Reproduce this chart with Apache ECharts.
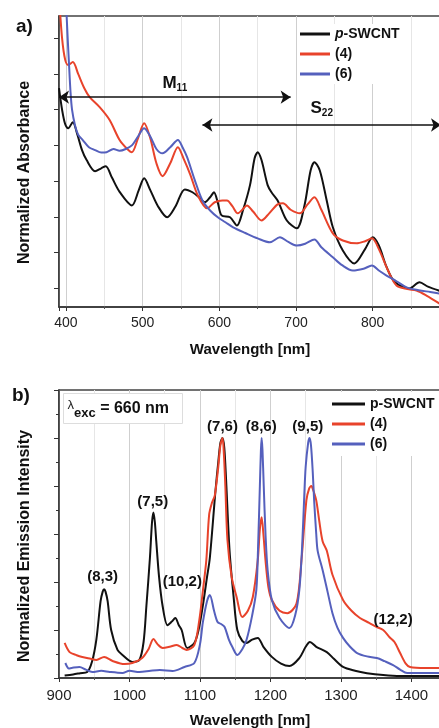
<!DOCTYPE html>
<html>
<head>
<meta charset="utf-8">
<title>SWCNT absorbance / emission</title>
<style>
  html, body {margin: 0; padding: 0; background: #fff;}
  #main {width: 439px; height: 728px;}
</style>
<script src="https://cdn.jsdelivr.net/npm/echarts@6/dist/echarts.min.js"></script>
</head>
<body>
<div id="main"></div>
<script>
var seriesNames = ['p-SWCNT', '(4)', '(6)'];
var seriesColors = ['#111111', '#e8432b', '#5560bd'];

// a) absorbance, [wavelength nm, normalized absorbance (arb.)]
var absPSwcnt = [[391,5.6],[395,5.0],[399,4.6],[403,4.48],[409,4.65],[415,4.3],[421,3.87],[427,3.59],[438,3.28],[446,3.36],[452,3.42],[460,3.1],[470,2.7],[486,2.32],[495,2.75],[502,3.08],[510,2.75],[520,2.3],[532,1.99],[543,2.3],[555,2.77],[565,2.69],[575,2.52],[581,2.41],[588,2.55],[593,2.69],[598,2.4],[603,2.04],[614,1.99],[623,1.76],[631,2.2],[640,2.89],[646,3.64],[650,3.81],[655,3.59],[663,2.89],[668,2.69],[676,2.46],[688,1.9],[701,1.68],[711,2.32],[719,3.3],[724,3.53],[731,3.3],[740,2.46],[748,1.71],[761,1.06],[776,0.7],[790,1.1],[800,1.43],[808,1.2],[818,0.6],[829,0.17],[848,0.0],[861,0.17],[872,0.05],[889,-0.08]];
var abs4 = [[391,8.2],[395,7.0],[399,6.4],[403,6.25],[409,6.33],[416,6.0],[424,5.6],[431,5.35],[444,5.07],[457,4.71],[470,4.15],[480,3.9],[486,3.81],[494,4.2],[502,4.62],[510,4.2],[518,3.5],[526,3.14],[536,3.5],[546,3.95],[554,3.6],[562,3.19],[572,2.6],[584,2.24],[594,2.41],[604,2.46],[610,2.46],[617,2.3],[624,2.1],[630,2.2],[636,2.32],[644,2.15],[655,1.9],[665,2.1],[676,2.35],[683,2.38],[693,2.2],[705,2.1],[715,2.35],[724,2.55],[733,2.2],[748,1.54],[761,1.34],[779,1.26],[790,1.32],[799,1.4],[808,1.1],[820,0.5],[831,0.08],[845,-0.02],[857,-0.06],[870,-0.2],[889,-0.45]];
var abs6 = [[398,9.5],[401,7.6],[404,6.3],[406,5.5],[408,5.0],[412,4.55],[416,4.3],[422,4.15],[430,3.95],[438,3.87],[446,3.8],[453,3.81],[462,3.9],[470,3.85],[478,3.9],[486,4.0],[494,4.25],[502,4.48],[510,4.25],[518,3.9],[526,3.78],[536,3.95],[546,4.15],[552,3.95],[558,3.67],[568,3.03],[578,2.46],[588,2.18],[598,1.99],[608,1.85],[618,1.71],[634,1.55],[650,1.4],[666,1.29],[679,1.43],[690,1.3],[701,1.2],[712,1.25],[724,1.37],[733,1.15],[748,0.87],[760,0.65],[774,0.5],[788,0.55],[799,0.64],[808,0.5],[818,0.36],[831,0.2],[844,0.03],[860,-0.05],[875,-0.1],[889,-0.15]];

// b) emission, [wavelength nm, normalized intensity]
var emPSwcnt = [[908,0.01],[920,0.015],[930,0.02],[940,0.025],[947,0.07],[953,0.16],[959,0.32],[962,0.36],[964,0.37],[966,0.36],[969,0.32],[974,0.2],[983,0.117],[990,0.096],[1004,0.067],[1014,0.075],[1020,0.15],[1024,0.3],[1029,0.5],[1032,0.65],[1034,0.69],[1036,0.65],[1038,0.57],[1042,0.42],[1047,0.3],[1054,0.22],[1060,0.235],[1065,0.25],[1070,0.22],[1074,0.2],[1082,0.125],[1092,0.146],[1098,0.2],[1104,0.3],[1110,0.42],[1114,0.5],[1122,0.78],[1126,0.9],[1129,0.98],[1132,1.0],[1134.5,0.96],[1137,0.83],[1142,0.53],[1148,0.33],[1153,0.2],[1160,0.155],[1166,0.146],[1174,0.16],[1182,0.167],[1190,0.13],[1202,0.088],[1215,0.06],[1227,0.05],[1241,0.083],[1250,0.13],[1256,0.15],[1265,0.13],[1280,0.108],[1290,0.08],[1303,0.046],[1320,0.03],[1337,0.02],[1360,0.012],[1384,0.008],[1442,0.008]];
var em4 = [[908,0.146],[915,0.108],[925,0.095],[933,0.0875],[945,0.08],[953,0.075],[964,0.0875],[976,0.071],[993,0.058],[1004,0.0625],[1018,0.083],[1027,0.12],[1034,0.1625],[1040,0.14],[1047,0.125],[1057,0.13],[1067,0.1375],[1075,0.125],[1081,0.117],[1092,0.1375],[1099,0.24],[1104,0.36],[1109,0.49],[1113,0.68],[1117,0.73],[1121,0.76],[1126,0.88],[1129,0.97],[1132,1.0],[1134,0.93],[1136,0.8],[1139,0.575],[1145,0.42],[1152,0.3375],[1160,0.254],[1168,0.28],[1175,0.3375],[1182,0.49],[1185,0.62],[1187.5,0.67],[1190,0.6],[1193,0.49],[1197,0.38],[1202,0.325],[1213,0.28],[1224,0.27],[1237,0.31],[1244,0.49],[1251,0.74],[1255,0.79],[1258,0.8],[1261,0.78],[1265,0.74],[1269,0.66],[1274,0.57],[1280,0.53],[1288,0.43],[1303,0.325],[1315,0.28],[1327,0.25],[1340,0.23],[1351,0.2125],[1360,0.2],[1369,0.17],[1376,0.15],[1384,0.104],[1392,0.06],[1398,0.046],[1420,0.042],[1442,0.042]];
var em6 = [[909,0.0625],[914,0.04],[918,0.042],[929,0.046],[938,0.035],[947,0.025],[960,0.03],[972,0.025],[990,0.021],[1000,0.03],[1014,0.025],[1030,0.03],[1043,0.033],[1061,0.029],[1078,0.046],[1092,0.0625],[1100,0.14],[1104,0.23],[1110,0.32],[1114,0.346],[1120,0.28],[1125,0.233],[1130,0.225],[1135,0.2125],[1141,0.16],[1146,0.129],[1153,0.096],[1160,0.12],[1166,0.158],[1174,0.26],[1180,0.367],[1182.5,0.55],[1185,0.8],[1186.5,0.95],[1187.5,1.0],[1188.7,0.95],[1190.5,0.8],[1193,0.6],[1196,0.45],[1202,0.325],[1213,0.25],[1227,0.208],[1235,0.26],[1241,0.367],[1245,0.55],[1248,0.76],[1250,0.88],[1253.5,0.98],[1255.5,1.0],[1257.5,0.97],[1260,0.86],[1262,0.74],[1265,0.6],[1267,0.53],[1274,0.45],[1281,0.36],[1288,0.27],[1295,0.21],[1303,0.167],[1313,0.13],[1323,0.104],[1337,0.09],[1351,0.083],[1362,0.07],[1374,0.054],[1384,0.035],[1394,0.021],[1442,0.021]];

// chirality tags in panel b (label anchor in data units)
var peakTags = ['(8,3)', '(7,5)', '(10,2)', '(7,6)', '(8,6)', '(9,5)', '(12,2)'];
var peakTagX = [962, 1033, 1075, 1132, 1187, 1253, 1374];
var peakTagY = [0.42, 0.733, 0.40, 1.046, 1.046, 1.046, 0.242];

// M11 / S22 ranges in panel a
var m11Range = [391, 693], m11Level = 5.35;
var s22Range = [578, 889], s22Level = 4.57;

var FONT = '"Liberation Sans", Arial, sans-serif';

var chart = echarts.init(document.getElementById('main'));

var tagData = [];
for (var i = 0; i < peakTags.length; i++) {
  tagData.push([peakTagX[i], peakTagY[i], peakTags[i]]);
}

function lineSeries(name, color, data, idx) {
  return {
    name: name,
    type: 'line',
    xAxisIndex: idx,
    yAxisIndex: idx,
    data: data,
    color: color,
    showSymbol: false,
    smooth: 0.3,
    clip: true,
    lineStyle: {color: color, width: 2}
  };
}

function xAxisBase(idx) {
  return {
    type: 'value',
    gridIndex: idx,
    axisLine: {show: true, onZero: false, lineStyle: {color: '#333', width: 1.5}},
    axisTick: {show: true, inside: false, length: 4, lineStyle: {color: '#333'}},
    minorTick: {show: true, splitNumber: 2, length: 2, lineStyle: {color: '#555'}},
    splitLine: {show: true, lineStyle: {color: '#cfcfcf', width: 1}},
    minorSplitLine: {show: true, lineStyle: {color: '#e6e6e6', width: 1}},
    nameLocation: 'middle',
    nameGap: 35,
    nameTextStyle: {fontFamily: FONT, fontWeight: 'bold', fontSize: 15, color: '#111'}
  };
}

function plainNumber(v) { return String(v); }

var xa = xAxisBase(0);
xa.min = 391; xa.max = 889; xa.splitNumber = 5;
xa.name = 'Wavelength [nm]';
xa.axisLabel = {fontFamily: FONT, fontSize: 14, color: '#222', margin: 9, showMinLabel: false, showMaxLabel: false, formatter: plainNumber};

var xb = xAxisBase(1);
xb.min = 900; xb.max = 1442; xb.interval = 100;
xb.name = 'Wavelength [nm]';
xb.axisLabel = {fontFamily: FONT, fontSize: 15, color: '#222', margin: 10, showMinLabel: true, showMaxLabel: false, formatter: plainNumber};

var option = {
  animation: false,
  backgroundColor: '#ffffff',
  textStyle: {fontFamily: FONT},
  grid: [
    {left: 59, top: 16, right: -2, bottom: 421, show: true, borderColor: '#444', borderWidth: 1.5, backgroundColor: '#fff', outerBoundsMode: 'none', containLabel: false},
    {left: 59, top: 390, right: -2, bottom: 50, show: true, borderColor: '#444', borderWidth: 1.5, backgroundColor: '#fff', outerBoundsMode: 'none', containLabel: false}
  ],
  xAxis: [xa, xb],
  yAxis: [
    {
      type: 'value', gridIndex: 0, min: -0.52, max: 7.62, splitNumber: 8,
      name: 'Normalized Absorbance', nameLocation: 'middle', nameGap: 26,
      nameTextStyle: {fontFamily: FONT, fontWeight: 'bold', fontSize: 16, color: '#111', padding: [0, 22, 0, 0]},
      axisLine: {show: true, onZero: false, lineStyle: {color: '#333', width: 1.5}},
      axisTick: {show: true, length: 5, lineStyle: {color: '#333'}, customValues: [0, 1, 2, 3, 4, 5, 6, 7]},
      axisLabel: {show: false},
      splitLine: {show: false}
    },
    {
      type: 'value', gridIndex: 1, min: 0, max: 1.2, interval: 0.2,
      name: 'Normalized Emission Intensity', nameLocation: 'middle', nameGap: 26,
      nameTextStyle: {fontFamily: FONT, fontWeight: 'bold', fontSize: 16, color: '#111', padding: [0, 24, 0, 0]},
      axisLine: {show: true, onZero: false, lineStyle: {color: '#333', width: 1.5}},
      axisTick: {show: true, length: 5, lineStyle: {color: '#333'}},
      minorTick: {show: true, splitNumber: 2, length: 3, lineStyle: {color: '#333'}},
      axisLabel: {show: false},
      splitLine: {show: false}
    }
  ],
  legend: [
    {
      data: seriesNames, orient: 'vertical', left: 298, top: 24,
      padding: [3, 4, 3, 2], itemGap: 6, itemWidth: 30, itemHeight: 3, icon: 'rect',
      backgroundColor: '#fff',
      textStyle: {fontFamily: FONT, fontWeight: 'bold', fontSize: 14, color: '#111',
        rich: {i: {fontFamily: FONT, fontWeight: 'bold', fontStyle: 'italic', fontSize: 14, color: '#111'}}},
      formatter: function (n) { return n === 'p-SWCNT' ? '{i|p}-SWCNT' : n; }
    },
    {
      data: seriesNames, orient: 'vertical', left: 322, top: 392,
      padding: [5, 10, 5, 10], itemGap: 6, itemWidth: 33, itemHeight: 3, icon: 'rect',
      backgroundColor: '#fff',
      textStyle: {fontFamily: FONT, fontWeight: 'bold', fontSize: 14, color: '#111'}
    }
  ],
  graphic: [
    {type: 'text', left: 16, top: 17, z: 100, style: {text: 'a)', fontFamily: FONT, fontWeight: 'bold', fontSize: 19, fill: '#111'}},
    {type: 'text', left: 12, top: 386, z: 100, style: {text: 'b)', fontFamily: FONT, fontWeight: 'bold', fontSize: 19, fill: '#111'}},
    {
      type: 'group', left: 63, top: 393, z: 100,
      children: [
        {type: 'rect', z: 100, shape: {x: 0, y: 0, width: 119, height: 30}, style: {fill: '#fff', stroke: '#dddddd', lineWidth: 1}},
        {type: 'text', z: 101, x: 4, y: 15, style: {
          text: '{l|λ}{s|exc}{t| = 660 nm}', verticalAlign: 'middle',
          rich: {
            l: {fontFamily: FONT, fontSize: 13, fill: '#222', padding: [0, 0, 6, 0]},
            s: {fontFamily: FONT, fontSize: 13, fontWeight: 'bold', fill: '#111', padding: [9, 0, 0, 0]},
            t: {fontFamily: FONT, fontSize: 16, fontWeight: 'bold', fill: '#111'}
          }
        }}
      ]
    }
  ],
  series: [
    (function () {
      var s = lineSeries(seriesNames[0], seriesColors[0], absPSwcnt, 0);
      s.markLine = {
        silent: true,
        symbol: ['arrow', 'arrow'],
        symbolSize: 10,
        lineStyle: {color: '#111', width: 1.5, type: 'solid'},
        label: {
          show: true, position: 'middle', distance: 4,
          rich: {
            m: {fontFamily: FONT, fontWeight: 'bold', fontSize: 17, color: '#111'},
            s: {fontFamily: FONT, fontWeight: 'bold', fontSize: 10, color: '#111', padding: [9, 0, 0, 0]}
          }
        },
        data: [
          [{coord: [m11Range[0], m11Level], label: {formatter: '{m|M}{s|11}'}}, {coord: [m11Range[1], m11Level]}],
          [{coord: [s22Range[0], s22Level], label: {formatter: '{m|S}{s|22}', distance: 7}}, {coord: [s22Range[1], s22Level]}]
        ]
      };
      return s;
    })(),
    lineSeries(seriesNames[1], seriesColors[1], abs4, 0),
    lineSeries(seriesNames[2], seriesColors[2], abs6, 0),
    lineSeries(seriesNames[0], seriesColors[0], emPSwcnt, 1),
    lineSeries(seriesNames[1], seriesColors[1], em4, 1),
    lineSeries(seriesNames[2], seriesColors[2], em6, 1),
    {
      name: 'tags', type: 'scatter', xAxisIndex: 1, yAxisIndex: 1,
      data: tagData, symbolSize: 0, silent: true, z: 5,
      itemStyle: {color: '#111', opacity: 1},
      label: {
        show: true, position: 'inside', opacity: 1,
        formatter: function (p) { return p.value[2]; },
        fontFamily: FONT, fontWeight: 'bold', fontSize: 15, color: '#111', textBorderWidth: 0
      }
    }
  ]
};

chart.setOption(option);
</script>
</body>
</html>
